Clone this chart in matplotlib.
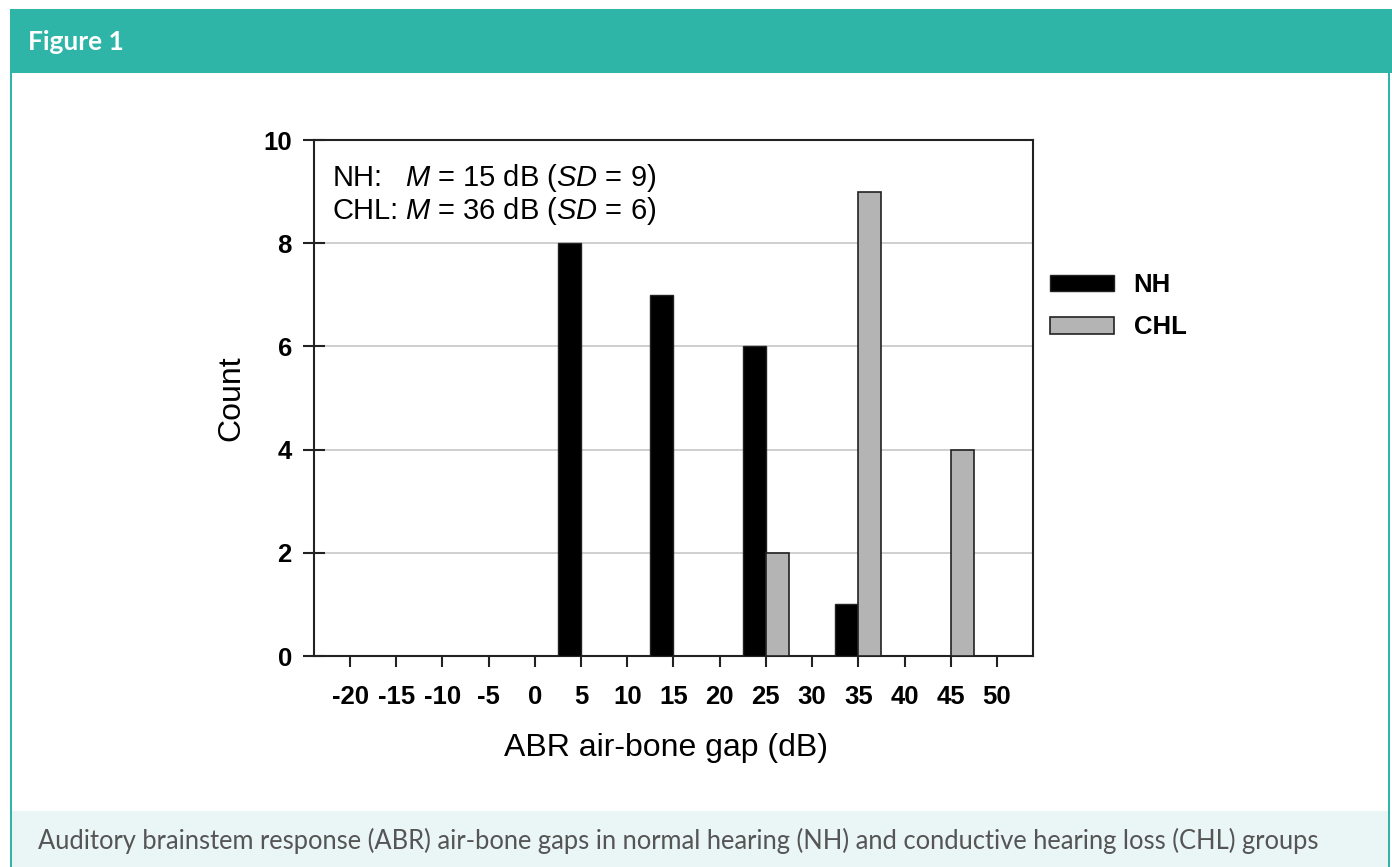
import matplotlib
matplotlib.use("Agg")
import matplotlib.pyplot as plt
from matplotlib.patches import Rectangle, Patch

plt.rcParams["font.family"] = ["Liberation Sans", "DejaVu Sans"]
plt.rcParams["mathtext.fontset"] = "custom"
plt.rcParams["mathtext.rm"] = "Liberation Sans"
plt.rcParams["mathtext.it"] = "Liberation Sans:italic"

# data
bins = [-20, -15, -10, -5, 0, 5, 10, 15, 20, 25, 30, 35, 40, 45, 50]
nh_counts = [0, 0, 0, 0, 0, 8, 0, 7, 0, 6, 0, 1, 0, 0, 0]
chl_counts = [0, 0, 0, 0, 0, 0, 0, 0, 0, 2, 0, 9, 0, 4, 0]
yticks = [0, 2, 4, 6, 8, 10]
stats_labels = ["NH:", "CHL:"]
stats_text = [r"$M$ = 15 dB ($SD$ = 9)", r"$M$ = 36 dB ($SD$ = 6)"]
teal = "#2fb5a8"

W, H = 1392, 867
fig = plt.figure(figsize=(W / 100, H / 100), dpi=100)

def box(x, y, w, h, color):
    # pixel box (top-left origin) -> figure rectangle
    fig.add_artist(Rectangle((x / W, 1 - (y + h) / H), w / W, h / H,
                             transform=fig.transFigure, color=color, lw=0))

# card frame
box(10, 9, 1382, 64, teal)
box(12, 811, 1376, 60, "#eaf6f5")
box(10, 73, 2, 800, teal)
box(1388, 73, 2, 800, teal)
fig.text(28 / W, 1 - 42 / H, "Figure 1", color="white", fontsize=19,
         fontweight="bold", family="Lato", va="center", ha="left")
fig.text(38 / W, 1 - 841 / H,
         "Auditory brainstem response (ABR) air-bone gaps in normal hearing (NH) "
         "and conductive hearing loss (CHL) groups",
         color="#555555", fontsize=18.4, family="Lato", va="center", ha="left")

ax = fig.add_axes([314 / W, 1 - 656 / H, (1033 - 314) / W, (656 - 140) / H])
w = 2.5
ax.bar([b - w for b in bins], nh_counts, width=w, align="edge",
       color="black", edgecolor="#222222", lw=1, zorder=3, label="NH")
ax.bar(bins, chl_counts, width=w, align="edge",
       color="#b4b4b4", edgecolor="#222222", lw=1.2, zorder=3, label="CHL")

ax.set_xlim(-23.9, 53.9)
ax.set_ylim(0, 10)
ax.set_xticks(bins)
ax.set_xticklabels([str(b) for b in bins], fontsize=18.5, fontweight="bold")
ax.set_yticks(yticks)
ax.set_yticklabels([str(t) for t in yticks], fontsize=18.5, fontweight="bold")
ax.tick_params(axis="x", direction="out", length=8, width=1.5, pad=13, color="#222222")
ax.tick_params(axis="y", direction="inout", length=16, width=1.5, pad=8, color="#222222")
ax.yaxis.grid(True, color="#cccccc", lw=1.3, zorder=0)
ax.set_axisbelow(True)
for s in ax.spines.values():
    s.set_linewidth(1.5)
    s.set_color("#222222")

ax.set_xlabel("ABR air-bone gap (dB)", fontsize=23, va="center")
ax.xaxis.set_label_coords(0.49, -0.178)
ax.set_ylabel("Count", fontsize=23, va="center")
ax.yaxis.set_label_coords(-0.1154, 0.5)

for i, (lab, txt) in enumerate(zip(stats_labels, stats_text)):
    yb = [186, 219][i]
    ax.text((333 - 314) / 719, (656 - yb) / 516, lab, transform=ax.transAxes,
            fontsize=21, va="baseline", ha="left")
    ax.text((405 - 314) / 719, (656 - yb) / 516, txt, transform=ax.transAxes,
            fontsize=21, va="baseline", ha="left")

handles = [Patch(facecolor="black", edgecolor="#222222", lw=1),
           Patch(facecolor="#b4b4b4", edgecolor="#222222", lw=1.2)]
fig.legend(handles, ["NH", "CHL"], loc="upper left",
           bbox_to_anchor=(1050 / W, 1 - 273 / H), frameon=False,
           borderpad=0, borderaxespad=0, handlelength=2.5, handleheight=0.6,
           handletextpad=0.75, labelspacing=0.72,
           prop={"size": 18.5, "weight": "bold"})

fig.savefig("out.png", dpi=100, facecolor="white")
